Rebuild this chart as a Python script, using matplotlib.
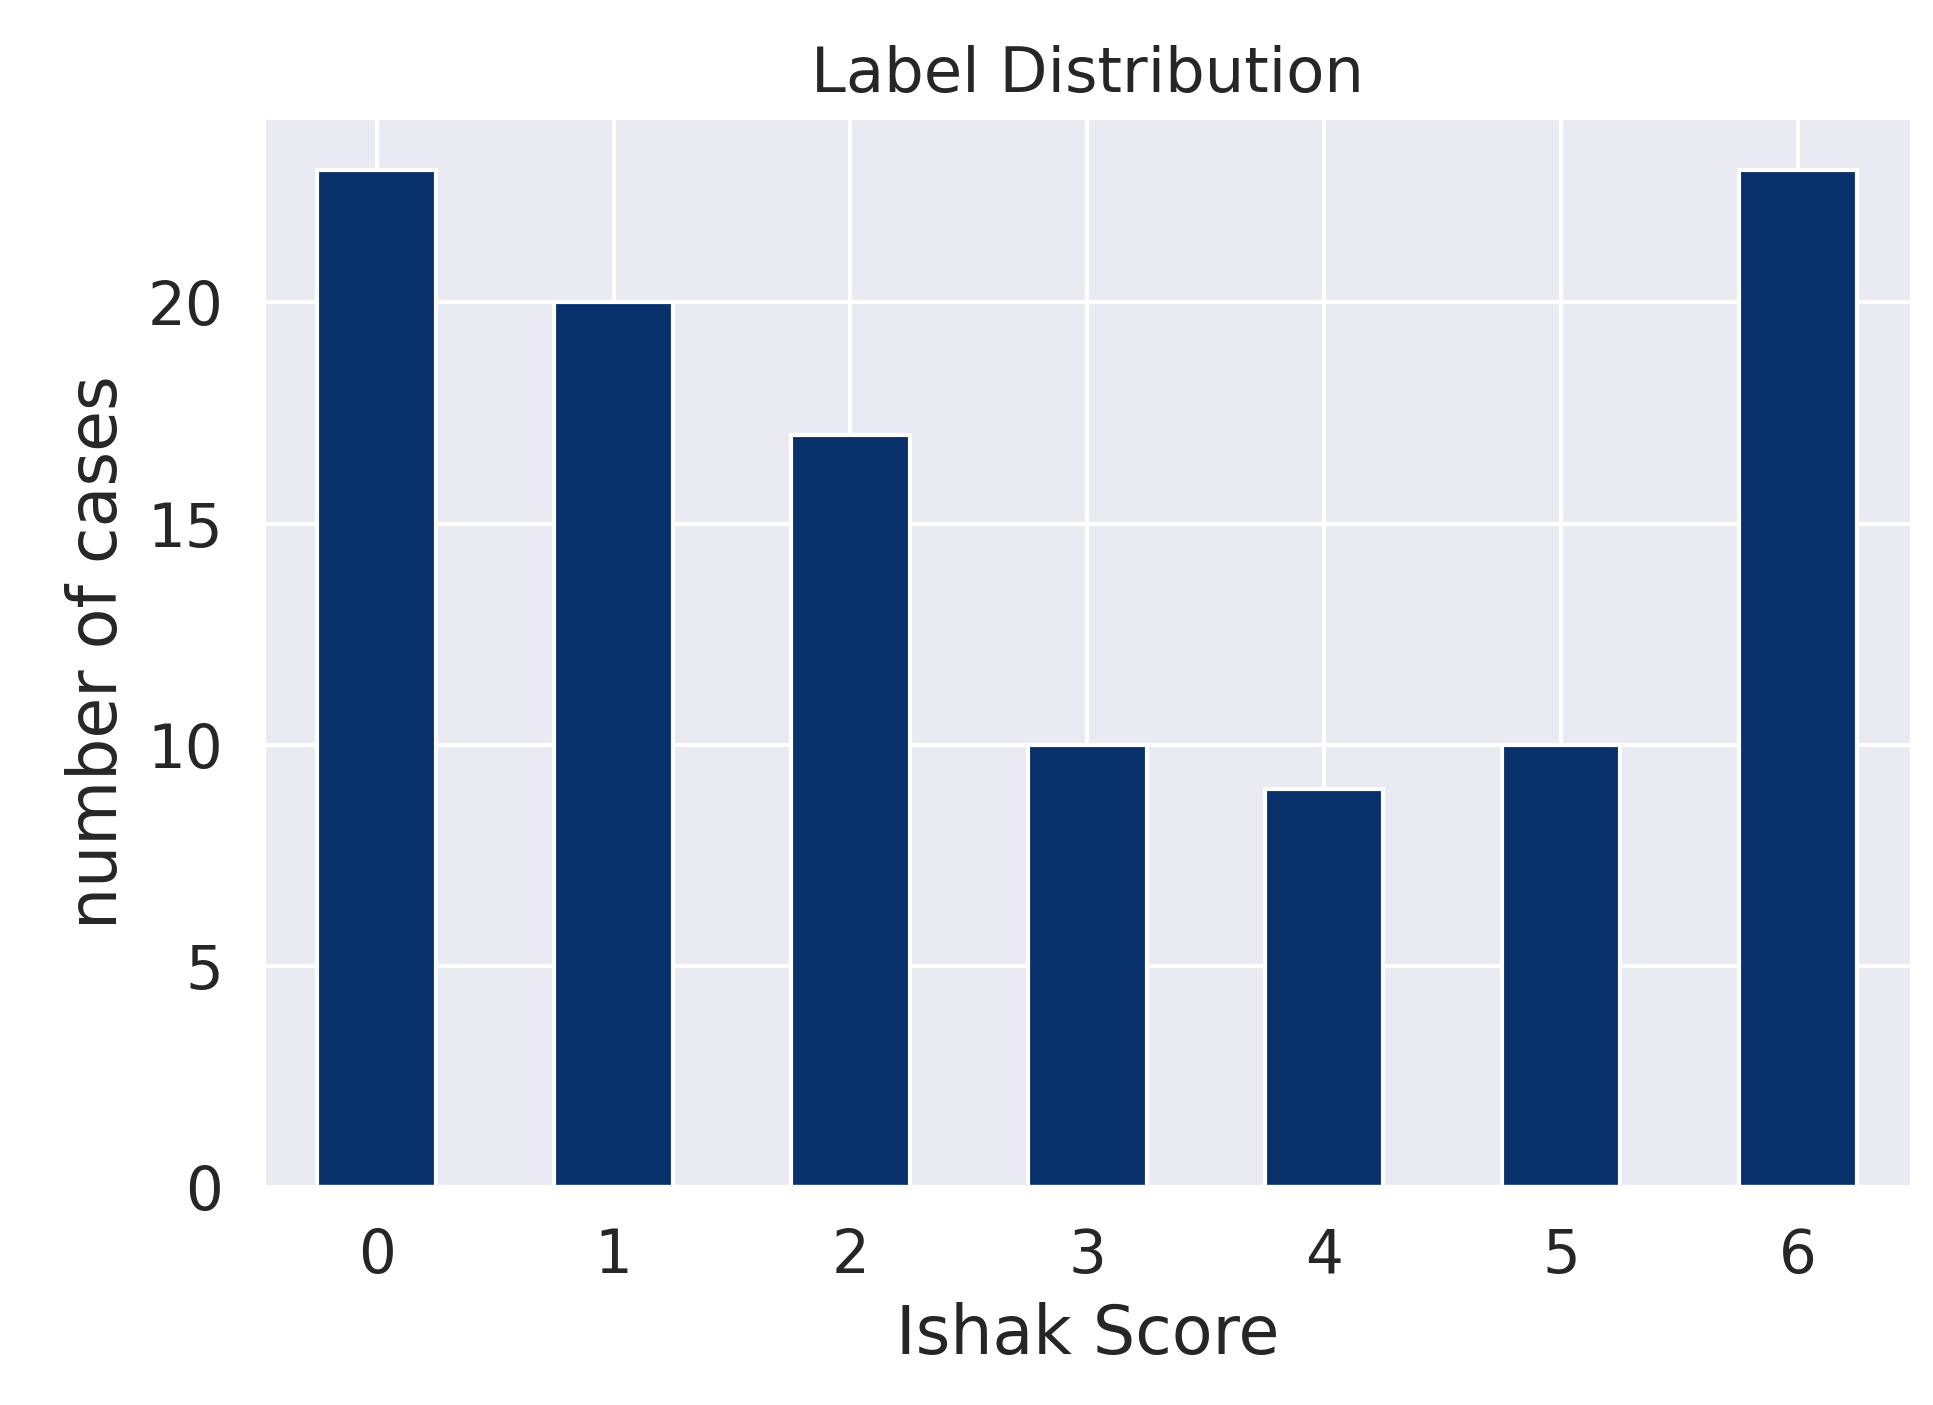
import numpy as np
import seaborn as sns
from matplotlib import pyplot as plt

# Data
scores = [0, 1, 2, 3, 4, 5, 6]
counts = [23, 20, 17, 10, 9, 10, 23]

sns.set_theme(style="darkgrid", font_scale=1.3)

fig = plt.figure(figsize=(1933 / 300, 1405 / 300), dpi=300)
ax = fig.add_axes([0.136, 0.155, 0.853, 0.762])
ax.bar(scores, counts, width=0.5, color="#08306b", edgecolor="white", linewidth=1.0)
ax.set_xticks(scores)
ax.set_xlim(-0.48, 6.48)
ax.set_ylim(0, 24.2)
ax.set_yticks([0, 5, 10, 15, 20])
ax.set_xlabel("Ishak Score", fontsize=16)
ax.set_ylabel("number of cases", fontsize=16)
ax.set_title("Label Distribution", fontsize=15)

fig.savefig("out.png", dpi=300)
